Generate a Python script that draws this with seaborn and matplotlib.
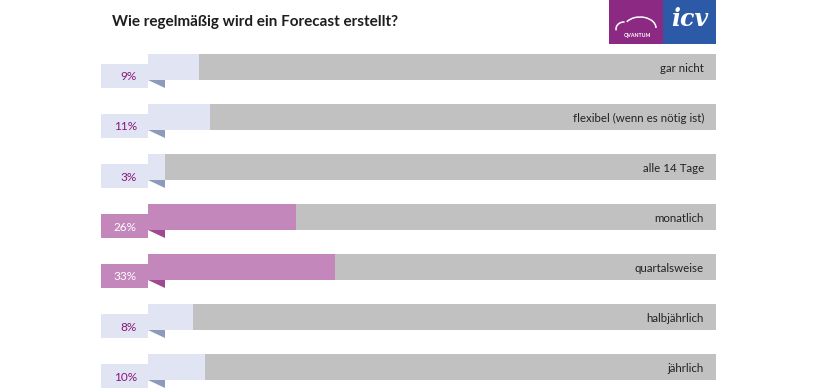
import matplotlib
matplotlib.use("Agg")
import matplotlib.pyplot as plt
import seaborn as sns
import pandas as pd
from matplotlib.patches import Rectangle, Polygon, Arc

categories = ["gar nicht", "flexibel (wenn es nötig ist)", "alle 14 Tage",
              "monatlich", "quartalsweise", "halbjährlich", "jährlich"]
values = [9, 11, 3, 26, 33, 8, 10]
labels = ["9%", "11%", "3%", "26%", "33%", "8%", "10%"]
highlight = [False, False, False, True, True, False, False]
title = "Wie regelmäßig wird ein Forecast erstellt?"

LIGHT = "#e1e4f2"
LIGHT_DARK = "#8d9abb"
PINK = "#c487bb"
PINK_DARK = "#a04890"
GRAY = "#c1c1c1"
PURPLE_TXT = "#86177c"

sns.set_theme(style="white")
plt.rcParams["font.family"] = ["Lato", "DejaVu Sans"]

df = pd.DataFrame({"cat": categories, "val": values, "track": [100] * len(values)})
bar_colors = [PINK if h else LIGHT for h in highlight]

fig = plt.figure(figsize=(8.2, 3.9), dpi=100)
ax = fig.add_axes([0, 0, 1, 1])
px = 5.68  # pixels per percent
sns.barplot(data=df, x="track", y="cat", orient="h", color=GRAY, width=0.52,
            ax=ax, saturation=1, linewidth=0, edgecolor="none")
sns.barplot(data=df, x="val", y="cat", hue="cat", orient="h", palette=bar_colors,
            width=0.52, ax=ax, saturation=1, legend=False, linewidth=0,
            edgecolor="none")
ax.set_xlim(-148 / px, (820 - 148) / px)
ax.set_ylim((390 - 67) / 50, (0 - 67) / 50)
ax.axis("off")

for i, (lab, cat, h) in enumerate(zip(labels, categories, highlight)):
    c = PINK if h else LIGHT
    dk = PINK_DARK if h else LIGHT_DARK
    ax.add_patch(Rectangle((-47 / px, i - 0.06), 47 / px, 0.48, facecolor=c,
                           edgecolor="none", zorder=3))
    ax.add_patch(Polygon([(0, i + 0.26), (17 / px, i + 0.26), (17 / px, i + 0.42)],
                         closed=True, facecolor=dk, edgecolor="none", zorder=3))
    ax.text(-11 / px, i + 0.2, lab, ha="right", va="center", fontsize=8.5,
            color="white" if h else PURPLE_TXT, zorder=4)
    ax.text(97.9, i + 0.02, cat, ha="right", va="center", fontsize=8.3,
            color="#222222", zorder=4)

fig.text(112 / 820, 1 - 22 / 390, title, ha="left", va="center", fontsize=11,
         fontweight="bold", color="#1e1e1e")

# logo
lax = fig.add_axes([609 / 820, 1 - 44 / 390, 107 / 820, 44 / 390])
lax.set_xlim(0, 107)
lax.set_ylim(44, 0)
lax.axis("off")
lax.add_patch(Rectangle((0, 0), 54, 44, facecolor="#8c2a83", edgecolor="none"))
lax.add_patch(Rectangle((54, 0), 53, 44, facecolor="#2c5aa7", edgecolor="none"))
lax.add_patch(Arc((15, 29), 16, 14, theta1=170, theta2=275, color="white", lw=1.1))
lax.add_patch(Arc((31, 28), 32, 22, theta1=205, theta2=360, color="white", lw=1.1))
lax.text(28, 35, "QVANTUM", ha="center", va="center", fontsize=3.8,
         fontweight="bold", color="white")
lax.text(81, 19, "icv", ha="center", va="center", fontsize=17, style="italic",
         fontweight="bold", color="white", family="DejaVu Serif")

fig.savefig("out.png", dpi=100)
